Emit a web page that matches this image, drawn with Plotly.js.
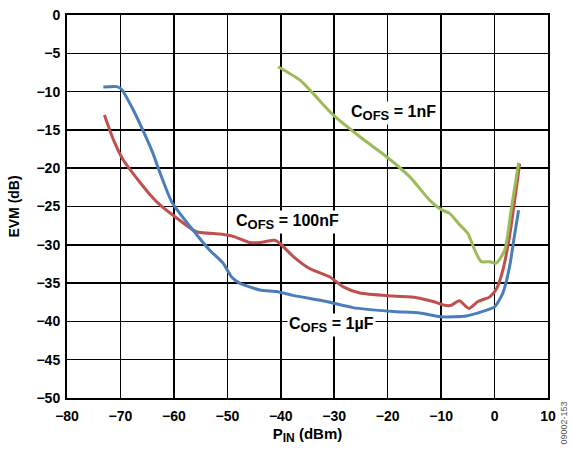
<!DOCTYPE html>
<html><head><meta charset="utf-8">
<script src="https://cdn.plot.ly/plotly-3.0.1.min.js"></script>
<style>html,body{margin:0;padding:0;background:#fff}#c{width:571px;height:451px}</style>
</head><body><div id="c"></div>
<script>
const blueX = [-73.2,-70.7,-69.8,-67.6,-65.7,-63.9,-62.6,-60.4,-56.4,-53.3,-50.8,-49.2,-47.7,-43.9,-40.8,-37.7,-31.5,-26.5,-19.0,-14.0,-10.0,-5.3,-2.2,0.0,1.55,2.8,3.7,4.5];
const blueY = [-9.4,-9.35,-9.7,-12.4,-15.2,-18.1,-20.6,-24.4,-28.1,-30.7,-32.4,-34.2,-35.0,-35.9,-36.1,-36.6,-37.4,-38.2,-38.7,-38.9,-39.4,-39.3,-38.7,-38.1,-36.3,-32.9,-28.9,-25.5];
const redX = [-73.0,-71.3,-69.5,-66.4,-63.9,-62.6,-59.5,-55.8,-51.4,-48.9,-45.8,-43.9,-41.1,-40.2,-37.7,-34.6,-30.8,-28.3,-25.2,-19.0,-14.6,-11.5,-9.3,-8.1,-6.6,-4.8,-3.1,-0.9,0.4,1.55,2.8,4.7];
const redY = [-13.05,-16.3,-18.9,-21.8,-23.9,-24.8,-26.5,-28.3,-28.6,-28.9,-29.7,-29.7,-29.4,-29.8,-31.5,-33.1,-34.2,-35.5,-36.3,-36.7,-36.9,-37.4,-37.9,-37.9,-37.3,-38.3,-37.4,-36.8,-35.7,-33.3,-28.9,-19.4];
const greenX = [-40.5,-36.4,-34.0,-30.2,-25.2,-20.2,-15.9,-12.1,-10.0,-8.4,-6.5,-5.0,-3.7,-2.5,-0.9,0.3,1.9,3.1,4.5];
const greenY = [-6.75,-8.5,-10.2,-13.05,-15.9,-18.5,-21.1,-24.2,-25.4,-25.9,-27.4,-28.5,-30.7,-32.2,-32.2,-32.4,-30.7,-25.5,-19.3];
const SUB = '<sub><span style="font-size:13px">OFS</span></sub>';
const labelText = ["C"+SUB+" = 1nF","C"+SUB+" = 100nF","C"+SUB+" = 1µF"];
const labelX = [-18.9,-38.7,-30.5];
const labelY = [-12.8,-27.0,-40.5];

const F = 'Arial, "Liberation Sans", sans-serif';
const mk = (x,y,c)=>({x:x,y:y,type:'scatter',mode:'lines',line:{color:c,width:3,shape:'spline',smoothing:0.6},hoverinfo:'skip'});
const data = [mk(redX,redY,'#C0504D'), mk(blueX,blueY,'#4A7EBB'), mk(greenX,greenY,'#9BBB59')];
const ann = labelText.map((t,i)=>({x:labelX[i],y:labelY[i],xref:'x',yref:'y',text:t,showarrow:false,bgcolor:'#fff',borderpad:1,font:{family:F,size:16,color:'#000',weight:'bold'}}));
ann.push({x:1,xref:'paper',xanchor:'left',xshift:8,y:0,yref:'paper',yanchor:'top',yshift:-2,text:'09002-153',textangle:-90,showarrow:false,font:{family:F,size:9,color:'#555'}});
const layout = {
  width:571,height:451,margin:{l:67,r:23,t:15,b:53},
  paper_bgcolor:'#fff',plot_bgcolor:'#fff',showlegend:false,
  xaxis:{range:[-80,10],dtick:10,tick0:0,showgrid:true,gridcolor:'#000',gridwidth:1.5,showline:true,mirror:true,linecolor:'#000',linewidth:2,zeroline:false,ticks:'',ticklabelstandoff:4,
    tickfont:{family:F,size:14,color:'#000',weight:'bold'},
    title:{text:'P<sub><span style="font-size:12px">IN</span></sub> (dBm)',font:{family:F,size:15,color:'#000',weight:'bold'},standoff:6}},
  yaxis:{range:[-50,0],dtick:5,tick0:0,showgrid:true,gridcolor:'#000',gridwidth:1.5,showline:true,mirror:true,linecolor:'#000',linewidth:2,zeroline:false,ticks:'',ticklabelstandoff:2,
    tickfont:{family:F,size:14,color:'#000',weight:'bold'},
    title:{text:'EVM (dB)',font:{family:F,size:14,color:'#000',weight:'bold'},standoff:14}},
  annotations:ann
};
Plotly.newPlot('c',data,layout,{staticPlot:true,displayModeBar:false});
</script></body></html>
